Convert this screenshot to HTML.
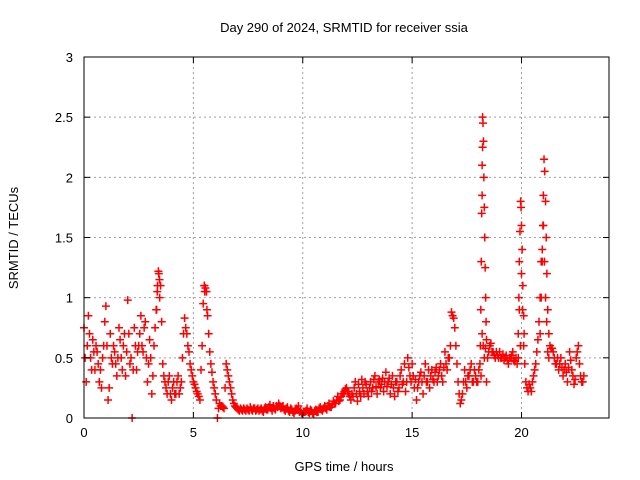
<!DOCTYPE html>
<html><head><meta charset="utf-8"><style>
html,body{margin:0;padding:0;background:#fff;}
svg{display:block;font-family:"Liberation Sans",sans-serif;}
</style></head><body>
<svg id="chart" width="640" height="480">
<text x="344" y="32" text-anchor="middle" font-size="13">Day 290 of 2024, SRMTID for receiver ssia</text>
<text x="344" y="471" text-anchor="middle" font-size="13">GPS time / hours</text>
<text transform="translate(18,238) rotate(-90)" text-anchor="middle" font-size="13">SRMTID / TECUs</text>
<g id="grid"></g><g id="marks"></g><g id="axes"></g>
</svg>
<script>
const xTicks=[0,5,10,15,20];
const yTicks=[0,0.5,1,1.5,2,2.5,3];
const yTickLabels=["0","0.5","1","1.5","2","2.5","3"];
const mainStart=0, mainStep=0.1;
const mainValues=[
0.75,0.3,0.85,0.5,0.65,0.4,0.55,0.3,0.25,0.6,
0.93,0.15,0.7,0.45,0.55,0.35,0.75,0.5,0.6,0.35,
0.98,0.45,0.0,0.75,0.4,0.6,0.85,0.55,0.8,0.3,
0.65,0.2,0.6,0.9,1.22,1.1,0.45,0.3,0.2,0.35,
0.15,0.3,0.2,0.35,0.25,0.5,0.83,0.7,0.55,0.4,
0.3,0.25,0.2,0.15,0.6,1.1,1.05,0.7,0.45,0.3,
0.2,0.0,0.12,0.1,0.08,0.45,0.35,0.25,0.15,0.1,
0.08,0.06,0.07,0.08,0.06,0.07,0.09,0.06,0.08,0.07,
0.06,0.08,0.05,0.09,0.07,0.11,0.06,0.08,0.1,0.12,
0.08,0.1,0.06,0.09,0.05,0.07,0.04,0.08,0.1,0.06,
0.03,0.05,0.08,0.04,0.06,0.03,0.07,0.05,0.09,0.06,
0.1,0.07,0.12,0.09,0.14,0.12,0.18,0.15,0.2,0.22,
0.25,0.2,0.15,0.18,0.3,0.14,0.22,0.32,0.2,0.28,
0.18,0.3,0.25,0.35,0.2,0.32,0.28,0.22,0.38,0.3,
0.2,0.35,0.18,0.3,0.25,0.4,0.3,0.22,0.5,0.35,
0.45,0.25,0.15,0.3,0.38,0.2,0.45,0.3,0.25,0.4,
0.3,0.42,0.35,0.45,0.3,0.55,0.4,0.5,0.88,0.83,
0.6,0.3,0.12,0.2,0.4,0.25,0.35,0.45,0.3,0.35,
0.3,0.45,0.7,0.5,0.3,0.55,0.62,0.55,0.5,0.52,
0.55,0.5,0.48,0.52,0.45,0.5,0.55,0.47,0.45,0.9,
1.2,0.6,0.3,0.22,0.25,0.3,0.4,0.55,0.8,1.3,
1.6,1.0,0.55,0.6,0.58,0.5,0.45,0.4,0.5,0.35,
0.45,0.3,0.55,0.4,0.28,0.5,0.6,0.35,0.3];
const midValues=[
0.5,0.6,0.7,0.4,0.55,0.6,0.45,0.4,0.5,0.8,
0.6,0.25,0.5,0.6,0.45,0.5,0.65,0.4,0.7,0.55,
0.7,0.5,0.4,0.6,0.55,0.7,0.6,0.75,0.5,0.45,
0.5,0.35,0.75,1.05,1.15,0.8,0.35,0.25,0.3,0.2,
0.25,0.2,0.3,0.2,0.3,0.7,0.75,0.6,0.45,0.35,
0.28,0.22,0.18,0.4,0.95,1.08,0.85,0.55,0.38,0.25,
0.15,0.08,0.1,0.09,0.25,0.4,0.3,0.2,0.12,0.09,
0.07,0.08,0.06,0.07,0.08,0.06,0.07,0.08,0.06,0.08,
0.07,0.06,0.08,0.07,0.09,0.08,0.1,0.07,0.09,0.1,
0.09,0.07,0.08,0.06,0.08,0.05,0.06,0.07,0.05,0.04,
0.05,0.06,0.05,0.07,0.04,0.06,0.05,0.08,0.07,0.08,
0.08,0.1,0.09,0.11,0.12,0.15,0.14,0.18,0.2,0.24,
0.22,0.18,0.2,0.25,0.2,0.28,0.18,0.25,0.3,0.22,
0.25,0.22,0.32,0.26,0.3,0.25,0.33,0.3,0.26,0.33,
0.28,0.25,0.3,0.22,0.35,0.28,0.45,0.3,0.42,0.3,
0.35,0.32,0.25,0.35,0.3,0.35,0.3,0.4,0.35,0.32,
0.38,0.3,0.4,0.35,0.42,0.45,0.5,0.6,0.85,0.75,
0.45,0.2,0.15,0.3,0.3,0.35,0.4,0.3,0.4,0.3,
0.4,0.35,0.6,0.58,0.5,0.6,0.55,0.52,0.55,0.5,
0.5,0.53,0.5,0.48,0.5,0.52,0.48,0.5,0.5,0.6,
0.9,0.45,0.25,0.28,0.22,0.35,0.45,0.65,1.0,1.4,
1.3,0.8,0.5,0.58,0.55,0.45,0.5,0.45,0.42,0.4,
0.38,0.42,0.48,0.35,0.32,0.55,0.45,0.3,0.35];
const spikeTimes=[3.32,3.36,3.42,3.46,5.5,5.52,5.62,
18.12,18.14,18.16,18.18,18.2,18.22,18.24,18.26,18.28,18.3,18.32,18.34,18.36,18.38,18.4,18.2,18.22,
19.85,19.88,19.9,19.93,19.96,19.98,20.0,20.03,20.06,20.1,20.12,
20.85,20.9,20.95,20.98,21.0,21.03,21.06,21.1,21.13,21.16,21.2,21.25];
const spikeValues=[0.9,1.1,1.2,1.0,1.1,1.05,0.9,
0.6,0.9,1.3,1.7,2.1,2.5,2.45,2.3,2.0,1.75,1.5,1.25,1.0,0.8,0.65,1.85,2.25,
0.7,1.0,1.3,1.55,1.8,1.75,1.6,1.4,1.1,0.85,0.7,
0.7,1.0,1.3,1.6,1.85,2.15,2.05,1.8,1.5,1.2,0.9,0.7];
const L=84,R=609,T=57,B=418,XMAX=24,YMAX=3;
const xs=v=>L+(R-L)*v/XMAX, ys=v=>B-(B-T)*v/YMAX;
const NS="http://www.w3.org/2000/svg";
function mk(tag,attrs,parent){const e=document.createElementNS(NS,tag);for(const k in attrs)e.setAttribute(k,attrs[k]);parent.appendChild(e);return e;}
const grid=document.getElementById('grid'),axes=document.getElementById('axes'),marks=document.getElementById('marks');
xTicks.forEach(t=>{
 const x=xs(t);
 if(t>0){const g=mk('line',{x1:x,x2:x,y1:T,y2:B,stroke:'#a0a0a0','stroke-dasharray':'2,3'},grid);
 
 }
 mk('line',{x1:x,x2:x,y1:B,y2:B-6,stroke:'#000'},axes);
 mk('line',{x1:x,x2:x,y1:T,y2:T+6,stroke:'#000'},axes);
 const tx=mk('text',{x:x,y:B+19,'text-anchor':'middle','font-size':'13'},axes);tx.textContent=String(t);
 
 
});
yTicks.forEach((t,i)=>{
 const y=ys(t);
 if(t>0&&t<YMAX){const g=mk('line',{x1:L,x2:R,y1:y,y2:y,stroke:'#a0a0a0','stroke-dasharray':'2,3'},grid);
 
 }
 mk('line',{x1:L,x2:L+6,y1:y,y2:y,stroke:'#000'},axes);
 mk('line',{x1:R,x2:R-6,y1:y,y2:y,stroke:'#000'},axes);
 const tx=mk('text',{x:L-11,y:y+5,'text-anchor':'end','font-size':'13'},axes);tx.textContent=yTickLabels[i];
 
 
});
const frame=mk('rect',{x:L,y:T,width:R-L,height:B-T,fill:'none',stroke:'#000'},axes);


function plus(t,v){
 const x=xs(t),y=ys(v);
 const p=mk('path',{d:`M${x-4},${y}h8M${x},${y-4}v8`,stroke:'#ff0000','stroke-width':'1.5',fill:'none'},marks);
 
 
}
mainValues.forEach((v,i)=>plus(mainStart+i*mainStep,v));
midValues.forEach((v,i)=>plus(mainStart+i*mainStep+mainStep/2,v));
spikeTimes.forEach((t,i)=>plus(t,spikeValues[i]));
</script>
</body></html>
